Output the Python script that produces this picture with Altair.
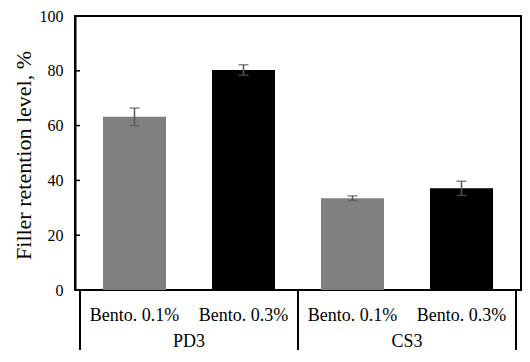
import altair as alt
import pandas as pd
import numpy as np

groups = ["PD3", "PD3", "CS3", "CS3"]
labels = ["Bento. 0.1%", "Bento. 0.3%", "Bento. 0.1%", "Bento. 0.3%"]
values = [63.2, 80.3, 33.5, 37.1]
errors = [3.2, 1.9, 0.85, 2.6]
tick_vals = [0, 20, 40, 60, 80, 100]
series_colors = ["#808080", "#000000"]

FONT = "Liberation Serif"
W, H = 446, 274
PT = 8
PB = 60

df = pd.DataFrame({"group": groups, "label": labels, "value": values, "err": errors})
df["pos"] = np.arange(len(df)) + 0.5
df["lo"] = df["value"] - df["err"]
df["hi"] = df["value"] + df["err"]

grp = df.groupby("group", sort=False)["pos"].mean().reset_index()
sizes = df.groupby("group", sort=False).size().cumsum().tolist()
bounds = pd.DataFrame({"b": [0] + sizes})

xs = alt.Scale(domain=[0, len(df)], nice=False, zero=False)
ys = alt.Scale(domain=[0, 100], nice=False)

y_axis = alt.Axis(
    values=tick_vals,
    ticks=False,
    grid=False,
    domain=True,
    domainColor="black",
    domainWidth=2,
    labelFont=FONT,
    labelFontSize=16,
    labelColor="black",
    labelPadding=12,
    title="Filler retention level, %",
    titleFont=FONT,
    titleFontSize=22,
    titleFontWeight="normal",
    titleColor="black",
    titleX=-52,
    titleY=H / 2 + 2,
    titleAlign="center",
    titleBaseline="middle",
)


def X(field="pos:Q"):
    return alt.X(field, scale=xs, axis=None)


def Y(field):
    return alt.Y(field, scale=ys, axis=y_axis)


base = alt.Chart(df)

bars = base.mark_bar(size=63).encode(
    x=X(),
    y=Y("value:Q"),
    color=alt.Color(
        "label:N",
        scale=alt.Scale(domain=labels[:2], range=series_colors),
        legend=None,
    ),
)

err_rule = base.mark_rule(color="#595959", strokeWidth=1.5).encode(
    x=X(), y=Y("lo:Q"), y2="hi:Q"
)
cap_lo = base.mark_tick(orient="horizontal", color="#595959", size=10, thickness=1.5).encode(
    x=X(), y=Y("lo:Q")
)
cap_hi = base.mark_tick(orient="horizontal", color="#595959", size=10, thickness=1.5).encode(
    x=X(), y=Y("hi:Q")
)

ticks = alt.Chart(pd.DataFrame({"t": tick_vals})).mark_rule(color="black", strokeWidth=1.5).encode(
    y=Y("t:Q"),
    x=alt.value(0),
    x2=alt.value(5),
)

cat_text = base.mark_text(font=FONT, fontSize=18, color="black", baseline="alphabetic").encode(
    x=X(), y=alt.value(H + 31), text="label:N"
)

grp_text = alt.Chart(grp).mark_text(font=FONT, fontSize=18, color="black", baseline="alphabetic").encode(
    x=X(), y=alt.value(H + PB - 3), text="group:N"
)

dividers = alt.Chart(bounds).mark_rule(color="black", strokeWidth=2).encode(
    x=X("b:Q"),
    y=alt.value(H),
    y2=alt.value(H + PB),
)

chart = (
    alt.layer(bars, err_rule, cap_lo, cap_hi, ticks, cat_text, grp_text, dividers)
    .properties(
        width=W,
        height=H,
        autosize=alt.AutoSizeParams(type="none"),
        padding={"left": 67, "top": PT, "right": 1, "bottom": PB},
        background="white",
    )
    .configure_view(stroke="black", strokeWidth=2)
)

chart.save("out.html", embed_options={"renderer": "svg", "actions": False})
